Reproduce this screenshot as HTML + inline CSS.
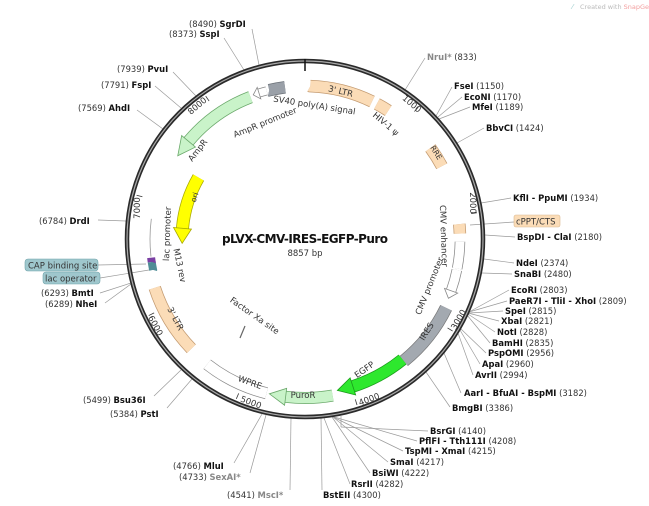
<!DOCTYPE html>
<html><head><meta charset="utf-8"><style>
html,body{margin:0;padding:0;background:#fff;}
svg{display:block;font-family:"DejaVu Sans","Liberation Sans",sans-serif;}
.l{font-size:8.4px;fill:#333;}
.l tspan.b{font-weight:bold;fill:#111;}
.g{fill:#888;}
.ln{stroke:#9a9a9a;stroke-width:0.7;fill:none;}
.ft{font-size:8.5px;fill:#333;}
.tk{font-size:8.5px;fill:#333;}
</style></head><body>
<svg width="649" height="506" viewBox="0 0 649 506" xmlns="http://www.w3.org/2000/svg">
<rect width="649" height="506" fill="#fff"/>
<text x="580" y="9" font-size="6.5" fill="#bbb">Created with <tspan fill="#f3a0a0">SnapGene®</tspan></text>
<text x="572" y="9" font-size="7" fill="#9cc">⁄</text>

<!-- leader lines -->
<g class="ln">
<line x1="405" y1="90" x2="425" y2="58"/>
<line x1="436" y1="116" x2="452" y2="87"/>
<line x1="438" y1="117" x2="462" y2="97"/>
<line x1="439" y1="119" x2="470" y2="107"/>
<line x1="457" y1="143" x2="484" y2="128"/>
<line x1="481" y1="203" x2="511" y2="198"/>
<line x1="470" y1="225" x2="514" y2="222"/>
<line x1="485" y1="235" x2="515" y2="237"/>
<line x1="484" y1="259" x2="514" y2="263"/>
<line x1="482" y1="273" x2="512" y2="274"/>
<line x1="469" y1="312" x2="509" y2="290"/>
<line x1="469" y1="312" x2="507" y2="301"/>
<line x1="469" y1="313" x2="503" y2="311"/>
<line x1="468" y1="313" x2="499" y2="321"/>
<line x1="468" y1="314" x2="495" y2="332"/>
<line x1="467" y1="315" x2="490" y2="343"/>
<line x1="461" y1="329" x2="486" y2="353"/>
<line x1="460" y1="330" x2="480" y2="364"/>
<line x1="458" y1="333" x2="473" y2="375"/>
<line x1="444" y1="353" x2="461" y2="393"/>
<line x1="426" y1="372" x2="450" y2="407"/>
<line x1="341" y1="416" x2="341" y2="427"/><line x1="341" y1="427" x2="428" y2="431"/>
<line x1="334" y1="417" x2="417" y2="441"/>
<line x1="333" y1="417" x2="403" y2="451"/>
<line x1="333" y1="417" x2="388" y2="462"/>
<line x1="332" y1="417" x2="370" y2="473"/>
<line x1="324" y1="418" x2="350" y2="484"/>
<line x1="321" y1="418" x2="322" y2="490"/>
<line x1="291" y1="418" x2="290" y2="490"/>
<line x1="266" y1="415" x2="250" y2="473"/>
<line x1="262" y1="414" x2="234" y2="463"/>
<line x1="192" y1="379" x2="167" y2="408"/>
<line x1="181" y1="370" x2="154" y2="396"/>
<line x1="131" y1="284" x2="105" y2="303"/>
<line x1="131" y1="283" x2="100" y2="293"/>
<line x1="126" y1="221" x2="98" y2="220"/>
<line x1="163" y1="129" x2="137" y2="110"/>
<line x1="181" y1="108" x2="155" y2="86"/>
<line x1="196" y1="96" x2="173" y2="72"/>
<line x1="244" y1="70" x2="224" y2="38"/>
<line x1="259" y1="65" x2="252" y2="29"/>
<line x1="146" y1="264" x2="98" y2="265"/>
<line x1="149" y1="270" x2="100" y2="278"/>
</g>

<!-- backbone -->
<circle cx="305" cy="239" r="178" fill="none" stroke="#2a2a2a" stroke-width="4.5"/>
<circle cx="305" cy="239" r="178" fill="none" stroke="#aaa" stroke-width="1.2"/>
<line x1="305" y1="59" x2="305" y2="71" stroke="#111" stroke-width="1.5"/>

<!-- ticks -->
<g stroke="#333" stroke-width="0.8">
<g transform="rotate(40.65 305 239)"><line x1="305" y1="65" x2="305" y2="71"/></g>
<g transform="rotate(81.3 305 239)"><line x1="305" y1="65" x2="305" y2="71"/></g>
<g transform="rotate(121.95 305 239)"><line x1="305" y1="65" x2="305" y2="71"/></g>
<g transform="rotate(162.6 305 239)"><line x1="305" y1="65" x2="305" y2="71"/></g>
<g transform="rotate(203.25 305 239)"><line x1="305" y1="65" x2="305" y2="71"/></g>
<g transform="rotate(243.9 305 239)"><line x1="305" y1="65" x2="305" y2="71"/></g>
<g transform="rotate(284.55 305 239)"><line x1="305" y1="65" x2="305" y2="71"/></g>
<g transform="rotate(325.2 305 239)"><line x1="305" y1="65" x2="305" y2="71"/></g>
</g>
<g class="tk" text-anchor="middle">
<text transform="translate(410,106) rotate(40)">1000</text>
<text transform="translate(470,203) rotate(90)">2000</text>
<text transform="translate(461,321) rotate(-60)">3000</text>
<text transform="translate(370,402) rotate(-20)">4000</text>
<text transform="translate(250,405) rotate(20)">5000</text>
<text transform="translate(153,327) rotate(62)">6000</text>
<text transform="translate(140,208) rotate(-90)">7000</text>
<text transform="translate(199,108) rotate(-40)">8000</text>
</g>

<!-- feature bands (pathLength 360 => degrees) -->
<g fill="none">
<!-- 3' LTR top -->
<circle cx="305" cy="239" r="153" pathLength="360" stroke="#c39a70" stroke-width="12.5" stroke-dasharray="24 336" transform="rotate(-88 305 239)"/>
<circle cx="305" cy="239" r="153" pathLength="360" stroke="#fbdcb7" stroke-width="11" stroke-dasharray="24 336" transform="rotate(-88 305 239)"/>
<!-- HIV psi -->
<circle cx="305" cy="239" r="153" pathLength="360" stroke="#c39a70" stroke-width="12.5" stroke-dasharray="5 355" transform="rotate(-62 305 239)"/>
<circle cx="305" cy="239" r="153" pathLength="360" stroke="#fbdcb7" stroke-width="11" stroke-dasharray="5 355" transform="rotate(-62 305 239)"/>
<!-- RRE -->
<circle cx="305" cy="239" r="155" pathLength="360" stroke="#c39a70" stroke-width="12.5" stroke-dasharray="8 352" transform="rotate(-36 305 239)"/>
<circle cx="305" cy="239" r="155" pathLength="360" stroke="#fbdcb7" stroke-width="11" stroke-dasharray="8 352" transform="rotate(-36 305 239)"/>
<!-- cPPT -->
<circle cx="305" cy="239" r="155" pathLength="360" stroke="#c39a70" stroke-width="12.5" stroke-dasharray="3.5 356.5" transform="rotate(-5.5 305 239)"/>
<circle cx="305" cy="239" r="155" pathLength="360" stroke="#fbdcb7" stroke-width="11" stroke-dasharray="3.5 356.5" transform="rotate(-5.5 305 239)"/>
<!-- CMV enhancer -->
<circle cx="305" cy="239" r="155" pathLength="360" stroke="#888" stroke-width="10.5" stroke-dasharray="10 350" transform="rotate(1 305 239)"/>
<circle cx="305" cy="239" r="155" pathLength="360" stroke="#fff" stroke-width="9" stroke-dasharray="10 350" transform="rotate(1 305 239)"/>
<!-- CMV promoter -->
<circle cx="305" cy="239" r="155" pathLength="360" stroke="#888" stroke-width="10.5" stroke-dasharray="8 352" transform="rotate(11.5 305 239)"/>
<circle cx="305" cy="239" r="155" pathLength="360" stroke="#fff" stroke-width="9" stroke-dasharray="8 352" transform="rotate(11.5 305 239)"/>
<!-- IRES -->
<circle cx="305" cy="239" r="157" pathLength="360" stroke="#777" stroke-width="13" stroke-dasharray="25 335" transform="rotate(26 305 239)"/>
<circle cx="305" cy="239" r="157" pathLength="360" stroke="#a3a9b0" stroke-width="11.5" stroke-dasharray="25 335" transform="rotate(26 305 239)"/>
<!-- EGFP -->
<circle cx="305" cy="239" r="155" pathLength="360" stroke="#1b9a1b" stroke-width="12.5" stroke-dasharray="21 339" transform="rotate(51 305 239)"/>
<circle cx="305" cy="239" r="155" pathLength="360" stroke="#2ee82e" stroke-width="11" stroke-dasharray="21 339" transform="rotate(51 305 239)"/>
<!-- PuroR -->
<circle cx="305" cy="239" r="159" pathLength="360" stroke="#6aa86a" stroke-width="12" stroke-dasharray="17 343" transform="rotate(80 305 239)"/>
<circle cx="305" cy="239" r="159" pathLength="360" stroke="#c9f3c9" stroke-width="10.5" stroke-dasharray="17 343" transform="rotate(80 305 239)"/>
<!-- WPRE -->
<circle cx="305" cy="239" r="159" pathLength="360" stroke="#888" stroke-width="12" stroke-dasharray="24 336" transform="rotate(104 305 239)"/>
<circle cx="305" cy="239" r="159" pathLength="360" stroke="#fff" stroke-width="10.5" stroke-dasharray="24 336" transform="rotate(104 305 239)"/>
<!-- 3' LTR lower -->
<circle cx="305" cy="239" r="158" pathLength="360" stroke="#c39a70" stroke-width="12.5" stroke-dasharray="26 334" transform="rotate(136 305 239)"/>
<circle cx="305" cy="239" r="158" pathLength="360" stroke="#fbdcb7" stroke-width="11" stroke-dasharray="26 334" transform="rotate(136 305 239)"/>
<!-- CAP / lac operator / M13 -->
<circle cx="305" cy="239" r="155" pathLength="360" stroke="#4f8d96" stroke-width="8" stroke-dasharray="3 357" transform="rotate(168.5 305 239)"/>
<circle cx="305" cy="239" r="155" pathLength="360" stroke="#7a3fa3" stroke-width="8" stroke-dasharray="1.6 358.4" transform="rotate(171.5 305 239)"/>
<!-- lac promoter -->
<circle cx="305" cy="239" r="155" pathLength="360" stroke="#999" stroke-width="0.8" stroke-dasharray="14 346" transform="rotate(173.5 305 239)"/>
<!-- ori -->
<circle cx="305" cy="239" r="123" pathLength="360" stroke="#a8a800" stroke-width="13" stroke-dasharray="25 335" transform="rotate(185 305 239)"/>
<circle cx="305" cy="239" r="123" pathLength="360" stroke="#ffff00" stroke-width="11.5" stroke-dasharray="25 335" transform="rotate(185 305 239)"/>
<!-- AmpR -->
<circle cx="305" cy="239" r="152" pathLength="360" stroke="#6aa86a" stroke-width="12.5" stroke-dasharray="29 331" transform="rotate(220 305 239)"/>
<circle cx="305" cy="239" r="152" pathLength="360" stroke="#c9f3c9" stroke-width="11" stroke-dasharray="29 331" transform="rotate(220 305 239)"/>
<!-- AmpR promoter -->
<circle cx="305" cy="239" r="153" pathLength="360" stroke="#888" stroke-width="9" stroke-dasharray="3 357" transform="rotate(252.5 305 239)"/>
<circle cx="305" cy="239" r="153" pathLength="360" stroke="#fff" stroke-width="7.5" stroke-dasharray="3 357" transform="rotate(252.5 305 239)"/>
<!-- SV40 -->
<circle cx="305" cy="239" r="153" pathLength="360" stroke="#6d737a" stroke-width="12.5" stroke-dasharray="6 354" transform="rotate(256.5 305 239)"/>
<circle cx="305" cy="239" r="153" pathLength="360" stroke="#9aa0a8" stroke-width="11" stroke-dasharray="6 354" transform="rotate(256.5 305 239)"/>
</g>

<!-- arrowheads -->
<g stroke-width="0.8" stroke-linejoin="miter">
<g transform="rotate(162 305 239)"><polygon points="305,75 305,93 321,85" fill="#2ee82e" stroke="#1b9a1b"/></g>
<g transform="rotate(187 305 239)"><polygon points="305,71.5 305,88.5 321.5,81" fill="#c9f3c9" stroke="#6aa86a"/></g>
<g transform="rotate(109.5 305 239)"><polygon points="305,77 305,91 313,84" fill="#fff" stroke="#888"/></g>
<g transform="rotate(275 305 239)"><polygon points="305,107 305,125 290,117" fill="#ffff00" stroke="#a8a800"/></g>
<g transform="rotate(310 305 239)"><polygon points="305,78 305,96 287,88" fill="#c9f3c9" stroke="#6aa86a"/></g>
<g transform="rotate(342.5 305 239)"><polygon points="305,80 305,92 299,86" fill="#fff" stroke="#888"/></g>
</g>
<line x1="240" y1="338" x2="245" y2="326" stroke="#666" stroke-width="1.2"/>

<!-- feature labels -->
<g class="ft" text-anchor="middle">
<text transform="translate(340,94) rotate(13)">3' LTR</text>
<text transform="translate(314,108) rotate(9)">SV40 poly(A) signal</text>
<text transform="translate(266,125) rotate(-22)">AmpR promoter</text>
<text transform="translate(200,152) rotate(-52)">AmpR</text>
<text transform="translate(384,126) rotate(40)">HIV-1 ψ</text>
<text transform="translate(434,154) rotate(58)" font-size="7.5">RRE</text>
<text transform="translate(197,198) rotate(-72)" font-size="7.5">ori</text>
<text transform="translate(170,234) rotate(-88)">lac promoter</text>
<text transform="translate(177,266) rotate(78)">M13 rev</text>
<text transform="translate(173,320) rotate(62)">3' LTR</text>
<text transform="translate(253,318) rotate(35)">Factor Xa site</text>
<text transform="translate(249,385) rotate(20)">WPRE</text>
<text x="303" y="398">PuroR</text>
<text transform="translate(366,372) rotate(-35)">EGFP</text>
<text transform="translate(429,333) rotate(-58)">IRES</text>
<text transform="translate(432,287) rotate(-68)">CMV promoter</text>
<text transform="translate(441,236) rotate(88)">CMV enhancer</text>
</g>

<!-- title -->
<text x="305" y="243" text-anchor="middle" font-size="12" font-weight="bold" fill="#111" textLength="166">pLVX-CMV-IRES-EGFP-Puro</text>
<text x="305" y="256" text-anchor="middle" font-size="8.5" fill="#333">8857 bp</text>

<!-- boxed labels -->
<rect x="514" y="215" width="46" height="12" rx="2" fill="#fbdcb7" stroke="#d9b890" stroke-width="0.6"/>
<text x="516" y="224.5" class="ft">cPPT/CTS</text>
<rect x="25" y="259" width="73" height="12" rx="3" fill="#9fc7cd" stroke="#6fa3aa" stroke-width="0.6"/>
<text x="28" y="268.5" class="ft">CAP binding site</text>
<rect x="43" y="272" width="57" height="12" rx="3" fill="#9fc7cd" stroke="#6fa3aa" stroke-width="0.6"/>
<text x="45" y="281.5" class="ft">lac operator</text>

<!-- right labels -->
<g class="l">
<text x="427" y="60"><tspan class="g" font-weight="bold">NruI*</tspan>  (833)</text>
<text x="454" y="89"><tspan class="b">FseI</tspan>  (1150)</text>
<text x="464" y="100"><tspan class="b">EcoNI</tspan>  (1170)</text>
<text x="472" y="110"><tspan class="b">MfeI</tspan>  (1189)</text>
<text x="486" y="131"><tspan class="b">BbvCI</tspan>  (1424)</text>
<text x="513" y="201"><tspan class="b">KflI - PpuMI</tspan>  (1934)</text>
<text x="517" y="240"><tspan class="b">BspDI - ClaI</tspan>  (2180)</text>
<text x="516" y="266"><tspan class="b">NdeI</tspan>  (2374)</text>
<text x="514" y="277"><tspan class="b">SnaBI</tspan>  (2480)</text>
<text x="511" y="293"><tspan class="b">EcoRI</tspan>  (2803)</text>
<text x="509" y="304"><tspan class="b">PaeR7I - TliI - XhoI</tspan>  (2809)</text>
<text x="505" y="314"><tspan class="b">SpeI</tspan>  (2815)</text>
<text x="501" y="324"><tspan class="b">XbaI</tspan>  (2821)</text>
<text x="497" y="335"><tspan class="b">NotI</tspan>  (2828)</text>
<text x="492" y="346"><tspan class="b">BamHI</tspan>  (2835)</text>
<text x="488" y="356"><tspan class="b">PspOMI</tspan>  (2956)</text>
<text x="482" y="367"><tspan class="b">ApaI</tspan>  (2960)</text>
<text x="475" y="378"><tspan class="b">AvrII</tspan>  (2994)</text>
<text x="464" y="396"><tspan class="b">AarI - BfuAI - BspMI</tspan>  (3182)</text>
<text x="452" y="411"><tspan class="b">BmgBI</tspan>  (3386)</text>
<text x="430" y="434"><tspan class="b">BsrGI</tspan>  (4140)</text>
<text x="419" y="444"><tspan class="b">PflFI - Tth111I</tspan>  (4208)</text>
<text x="405" y="454"><tspan class="b">TspMI - XmaI</tspan>  (4215)</text>
<text x="390" y="465"><tspan class="b">SmaI</tspan>  (4217)</text>
<text x="372" y="476"><tspan class="b">BsiWI</tspan>  (4222)</text>
<text x="351" y="487"><tspan class="b">RsrII</tspan>  (4282)</text>
<text x="323" y="498"><tspan class="b">BstEII</tspan>  (4300)</text>
<!-- left labels -->
<text x="227" y="498">(4541)  <tspan class="g" font-weight="bold">MscI*</tspan></text>
<text x="179" y="480">(4733)  <tspan class="g" font-weight="bold">SexAI*</tspan></text>
<text x="173" y="469">(4766)  <tspan class="b">MluI</tspan></text>
<text x="110" y="417">(5384)  <tspan class="b">PstI</tspan></text>
<text x="83" y="403">(5499)  <tspan class="b">Bsu36I</tspan></text>
<text x="45" y="307">(6289)  <tspan class="b">NheI</tspan></text>
<text x="41" y="296">(6293)  <tspan class="b">BmtI</tspan></text>
<text x="39" y="224">(6784)  <tspan class="b">DrdI</tspan></text>
<text x="78" y="111">(7569)  <tspan class="b">AhdI</tspan></text>
<text x="101" y="88">(7791)  <tspan class="b">FspI</tspan></text>
<text x="117" y="72">(7939)  <tspan class="b">PvuI</tspan></text>
<text x="169" y="37">(8373)  <tspan class="b">SspI</tspan></text>
<text x="189" y="27">(8490)  <tspan class="b">SgrDI</tspan></text>
</g>
</svg>
</body></html>
